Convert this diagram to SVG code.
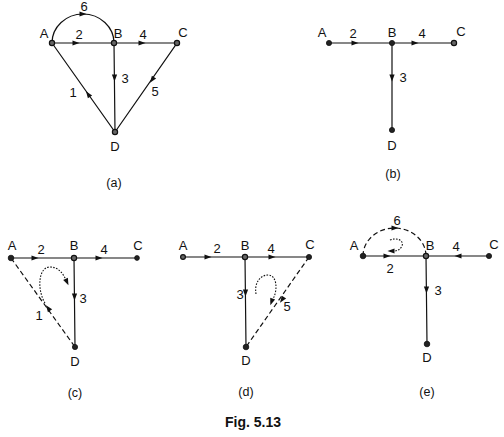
<svg xmlns="http://www.w3.org/2000/svg" xmlns:xlink="http://www.w3.org/1999/xlink" width="504" height="437" viewBox="0 0 504 437">
<style>
text{font-family:"Liberation Sans",Arial,sans-serif;font-size:13px;fill:#111;text-anchor:middle}
.cap{font-size:12.5px}
.fig{font-weight:bold;font-size:14px}
.e{stroke:#111;stroke-width:1.2;fill:none}
.d{stroke:#111;stroke-width:1.2;fill:none;stroke-dasharray:5,3}
.o{stroke:#111;stroke-width:1.1;fill:none;stroke-dasharray:1.6,1.4}
.n{fill:#222;stroke:#111;stroke-width:0.8}
.nh{fill:#666;stroke:#111;stroke-width:1.2}
</style>
<defs>
<path id="ah" d="M3.5,0 L-3.5,-2.6 L-3.5,2.6 Z" fill="#111"/>
</defs>
<g id="connectors">
<!-- (a) -->
<path class="e" d="M52,43 A31,29 0 0 1 114,43"/>
<path class="e" d="M52,43 L114,43 L177,43 L115,132 L52,43 M114,43 L115,132"/>
<use xlink:href="#ah" transform="translate(83,14)"/>
<use xlink:href="#ah" transform="translate(76,43)"/>
<use xlink:href="#ah" transform="translate(142,43)"/>
<use xlink:href="#ah" transform="translate(114.5,78) rotate(90)"/>
<use xlink:href="#ah" transform="translate(88,94) rotate(-125)"/>
<use xlink:href="#ah" transform="translate(152,80) rotate(125)"/>
<!-- (b) -->
<path class="e" d="M329,43 L454,43 M392,43 L392,130"/>
<use xlink:href="#ah" transform="translate(355,43)"/>
<use xlink:href="#ah" transform="translate(415,43)"/>
<use xlink:href="#ah" transform="translate(392,78) rotate(90)"/>
<!-- (c) -->
<path class="e" d="M11,258 L137,258 M74,258 L75,347"/>
<path class="d" d="M11,258 L75,347"/>
<path class="o" d="M45,303 C37,290 38,267 50,267 C58,267 63,273 66,280"/>
<use xlink:href="#ah" transform="translate(67,282) rotate(65)"/>
<use xlink:href="#ah" transform="translate(35,258)"/>
<use xlink:href="#ah" transform="translate(99,258)"/>
<use xlink:href="#ah" transform="translate(74.5,297) rotate(90)"/>
<use xlink:href="#ah" transform="translate(48,308) rotate(-126)"/>
<!-- (d) -->
<path class="e" d="M183,257 L309,257 M245,257 L246,347"/>
<path class="d" d="M309,257 L246,347"/>
<path class="o" d="M256,294 C254,282 261,275 268,275 C277,275 278,290 273,299"/>
<use xlink:href="#ah" transform="translate(271.5,302) rotate(110)"/>
<use xlink:href="#ah" transform="translate(208,257)"/>
<use xlink:href="#ah" transform="translate(272,257)"/>
<use xlink:href="#ah" transform="translate(245.5,293) rotate(90)"/>
<use xlink:href="#ah" transform="translate(282,300) rotate(125)"/>
<!-- (e) -->
<path class="e" d="M363,256 L489,256 M426,256 L427,344"/>
<path class="d" d="M363,256 A31.5,28 0 0 1 426,256"/>
<path class="o" d="M390,240 C398,237 404,241 402,246 C400,250 397,251 393,251"/>
<use xlink:href="#ah" transform="translate(391,251) rotate(180)"/>
<use xlink:href="#ah" transform="translate(395,228)"/>
<use xlink:href="#ah" transform="translate(387,256)"/>
<use xlink:href="#ah" transform="translate(458,256) rotate(180)"/>
<use xlink:href="#ah" transform="translate(426.5,290) rotate(90)"/>
</g>
<g id="edge-labels">
<text x="84" y="11">6</text><text x="79" y="38.5">2</text><text x="143" y="38.5">4</text><text x="125" y="82.5">3</text><text x="73" y="96.5">1</text><text x="155" y="95.5">5</text>
<text x="353" y="38">2</text><text x="422" y="38">4</text><text x="403" y="82">3</text>
<text x="41" y="254">2</text><text x="104" y="254">4</text><text x="83" y="303">3</text><text x="39" y="320">1</text>
<text x="217" y="253">2</text><text x="271" y="253">4</text><text x="240" y="299">3</text><text x="287" y="311">5</text>
<text x="397" y="225">6</text><text x="390" y="272.5">2</text><text x="456" y="251">4</text><text x="438" y="295">3</text>
</g>
<g id="graph-a">
<circle id="a-A" class="nh" cx="52" cy="43" r="2.6"/><text x="44" y="37.5">A</text>
<circle id="a-B" class="nh" cx="114" cy="43" r="2.6"/><text x="118" y="37.5">B</text>
<circle id="a-C" class="nh" cx="177" cy="43" r="2.6"/><text x="183" y="36.5">C</text>
<circle id="a-D" class="nh" cx="115" cy="132" r="2.6"/><text x="115" y="150.5">D</text>
<text class="cap" x="114" y="187">(a)</text>
</g>
<g id="graph-b">
<circle class="n" cx="329" cy="43" r="2.6"/><text x="322" y="37">A</text>
<circle class="n" cx="392" cy="43" r="2.6"/><text x="392" y="37">B</text>
<circle class="nh" cx="454" cy="43" r="2.6"/><text x="461" y="36">C</text>
<circle class="n" cx="392" cy="130" r="2.6"/><text x="392" y="149.5">D</text>
<text class="cap" x="393" y="178">(b)</text>
</g>
<g id="graph-c">
<circle class="n" cx="11" cy="258" r="2.8"/><text x="12" y="249.5">A</text>
<circle class="nh" cx="74" cy="258" r="2.6"/><text x="74" y="249.5">B</text>
<circle class="n" cx="137" cy="258" r="2.4"/><text x="138" y="249.5">C</text>
<circle class="n" cx="75" cy="347" r="2.6"/><text x="75" y="366">D</text>
<text class="cap" x="75" y="397">(c)</text>
</g>
<g id="graph-d">
<circle class="nh" cx="183" cy="257" r="2.4"/><text x="183" y="249.5">A</text>
<circle class="nh" cx="245" cy="257" r="2.6"/><text x="245" y="249.5">B</text>
<circle class="n" cx="309" cy="257" r="2.6"/><text x="310" y="248.5">C</text>
<circle class="n" cx="246" cy="347" r="2.8"/><text x="246" y="364.5">D</text>
<text class="cap" x="246" y="396">(d)</text>
</g>
<g id="graph-e">
<circle class="n" cx="363" cy="256" r="2.8"/><text x="354" y="249.5">A</text>
<circle class="nh" cx="426" cy="256" r="2.6"/><text x="430" y="249.5">B</text>
<circle class="n" cx="489" cy="256" r="2.6"/><text x="494" y="248.5">C</text>
<circle class="n" cx="427" cy="344" r="2.8"/><text x="427" y="361.5">D</text>
<text class="cap" x="427" y="396">(e)</text>
</g>
<text class="fig" x="253" y="427">Fig. 5.13</text>
</svg>
